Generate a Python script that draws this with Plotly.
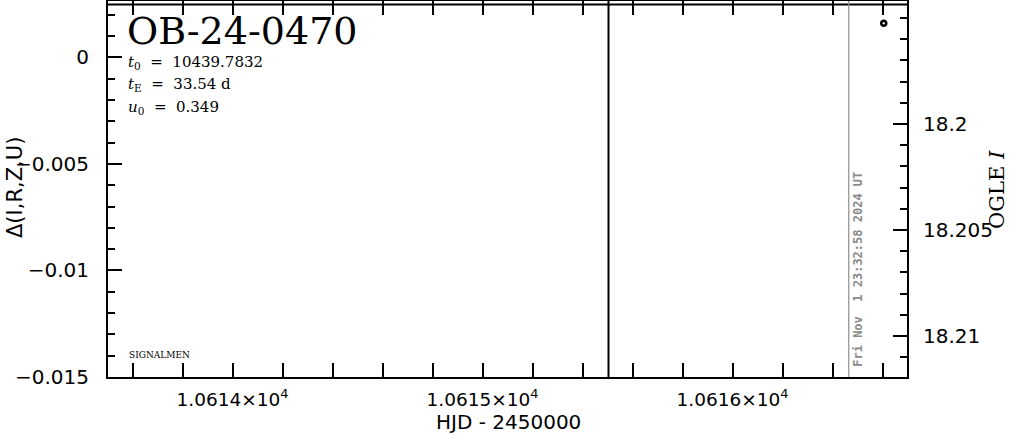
import plotly.graph_objects as go

# ---- data ----
event_name = "OB-24-0470"
t0_text = "10439.7832"
tE_text = "33.54 d"
u0_text = "0.349"

hjd_range = [10613.502, 10616.698]
delta_range = [-0.015, 0.00265]
ogle_range = [18.21193, 18.19420]      # magnitudes, reversed

x_tick_vals = [10614, 10615, 10616]
x_tick_text = ["1.0614×10<sup>4</sup>", "1.0615×10<sup>4</sup>", "1.0616×10<sup>4</sup>"]
y_tick_vals = [0, -0.005, -0.01, -0.015]
y_tick_text = ["0", "\u22120.005", "\u22120.01", "\u22120.015"]
y2_tick_vals = [18.2, 18.205, 18.21]
y2_tick_text = ["18.2", "18.205", "18.21"]

# OGLE I photometry
ogle_hjd = [10616.605]
ogle_mag = [18.19525]

# flat model curve (in Δ units)
model_hjd = [10613.3, 10616.9]
model_delta = [0.00249, 0.00249]

season_line_hjd = 10615.504
now_hjd = 10616.465
now_text = "Fri Nov  1 23:32:58 2024 UT"

W, H = 1011, 434
L, R, T, B = 108, 104, 1, 57

fig = go.Figure()

fig.add_trace(go.Scatter(
    x=model_hjd, y=model_delta, mode="lines",
    line=dict(color="black", width=2), showlegend=False, hoverinfo="skip",
    yaxis="y"))

fig.add_trace(go.Scatter(
    x=ogle_hjd, y=ogle_mag, mode="markers",
    marker=dict(symbol="circle-open", size=5, color="black", line=dict(width=2.6, color="black")),
    showlegend=False, yaxis="y2", cliponaxis=False))

fig.add_shape(type="line", xref="x", yref="paper", x0=season_line_hjd, x1=season_line_hjd,
              y0=0, y1=1, line=dict(color="black", width=2))
fig.add_shape(type="line", xref="x", yref="paper", x0=now_hjd, x1=now_hjd,
              y0=0, y1=1, line=dict(color="#8e8e8e", width=1.2))

fig.update_layout(
    width=W, height=H,
    margin=dict(l=L, r=R, t=T, b=B, autoexpand=False),
    paper_bgcolor="white", plot_bgcolor="white",
    showlegend=False,
    xaxis=dict(
        range=hjd_range, showgrid=False, zeroline=False,
        showline=True, linecolor="black", linewidth=2, mirror="allticks",
        ticks="inside", ticklen=14, tickwidth=2, tickcolor="black",
        tickvals=x_tick_vals, ticktext=x_tick_text,
        tickfont=dict(family="DejaVu Sans", size=18.5, color="black"), ticklabelstandoff=5,
        minor=dict(dtick=0.2, ticks="inside", ticklen=7, tickwidth=2, tickcolor="black", showgrid=False),
    ),
    yaxis=dict(
        range=delta_range, showgrid=False, zeroline=False,
        showline=True, linecolor="black", linewidth=2, mirror=False,
        ticks="inside", ticklen=14, tickwidth=2, tickcolor="black",
        tickvals=y_tick_vals, ticktext=y_tick_text,
        tickfont=dict(family="DejaVu Sans", size=20, color="black"), ticklabelstandoff=13,
        minor=dict(dtick=0.001, ticks="inside", ticklen=7, tickwidth=2, tickcolor="black", showgrid=False),
    ),
    yaxis2=dict(
        range=ogle_range, overlaying="y", side="right", showgrid=False, zeroline=False,
        showline=True, linecolor="black", linewidth=2,
        ticks="inside", ticklen=14, tickwidth=2, tickcolor="black",
        tickvals=y2_tick_vals, ticktext=y2_tick_text,
        tickfont=dict(family="DejaVu Sans", size=20, color="black"), ticklabelstandoff=10,
        minor=dict(dtick=0.001, ticks="inside", ticklen=7, tickwidth=2, tickcolor="black", showgrid=False),
    ),
)

def px_x(p):
    return (p - L) / (W - L - R)

def px_y(p):
    return 1 - (p - T) / (H - T - B)

serif = "DejaVu Serif"
annos = [
    dict(text=event_name, x=px_x(125), y=px_y(31), xanchor="left", yanchor="middle",
         font=dict(family=serif, size=38, color="black")),
    dict(text="<i>t</i><sub>0</sub>  =  " + t0_text, x=px_x(126), y=px_y(63), xanchor="left", yanchor="middle",
         font=dict(family=serif, size=15, color="black")),
    dict(text="<i>t</i><sub>E</sub>  =  " + tE_text, x=px_x(126), y=px_y(85), xanchor="left", yanchor="middle",
         font=dict(family=serif, size=15, color="black")),
    dict(text="<i>u</i><sub>0</sub>  =  " + u0_text, x=px_x(126), y=px_y(107), xanchor="left", yanchor="middle",
         font=dict(family=serif, size=15, color="black")),
    dict(text="SIGNALMEN", x=px_x(127), y=px_y(355), xanchor="left", yanchor="middle",
         font=dict(family=serif, size=9, color="black")),
    dict(text="HJD - 2450000", x=px_x(508), y=px_y(422), xanchor="center", yanchor="middle",
         font=dict(family="DejaVu Sans", size=20, color="black")),
    dict(text="Δ(I,R,Z,U)", x=px_x(15), y=px_y(188), xanchor="center", yanchor="middle",
         textangle=-90, font=dict(family="DejaVu Sans", size=21, color="black")),
    dict(text="OGLE <i>I</i>", x=px_x(997), y=px_y(190), xanchor="center", yanchor="middle",
         textangle=-90, font=dict(family=serif, size=21, color="black")),
]
for a in annos:
    fig.add_annotation(xref="paper", yref="paper", showarrow=False, **a)

fig.add_annotation(text=now_text, xref="x", yref="paper", x=now_hjd, y=px_y(269),
                   xanchor="left", yanchor="middle", xshift=0, textangle=-90, showarrow=False,
                   font=dict(family="DejaVu Sans Mono", size=12, color="#8a8a8a", weight="bold"))

fig.write_html("out.html", config={"displayModeBar": False},
               post_script="document.body.style.margin='0';document.body.style.padding='0';")
